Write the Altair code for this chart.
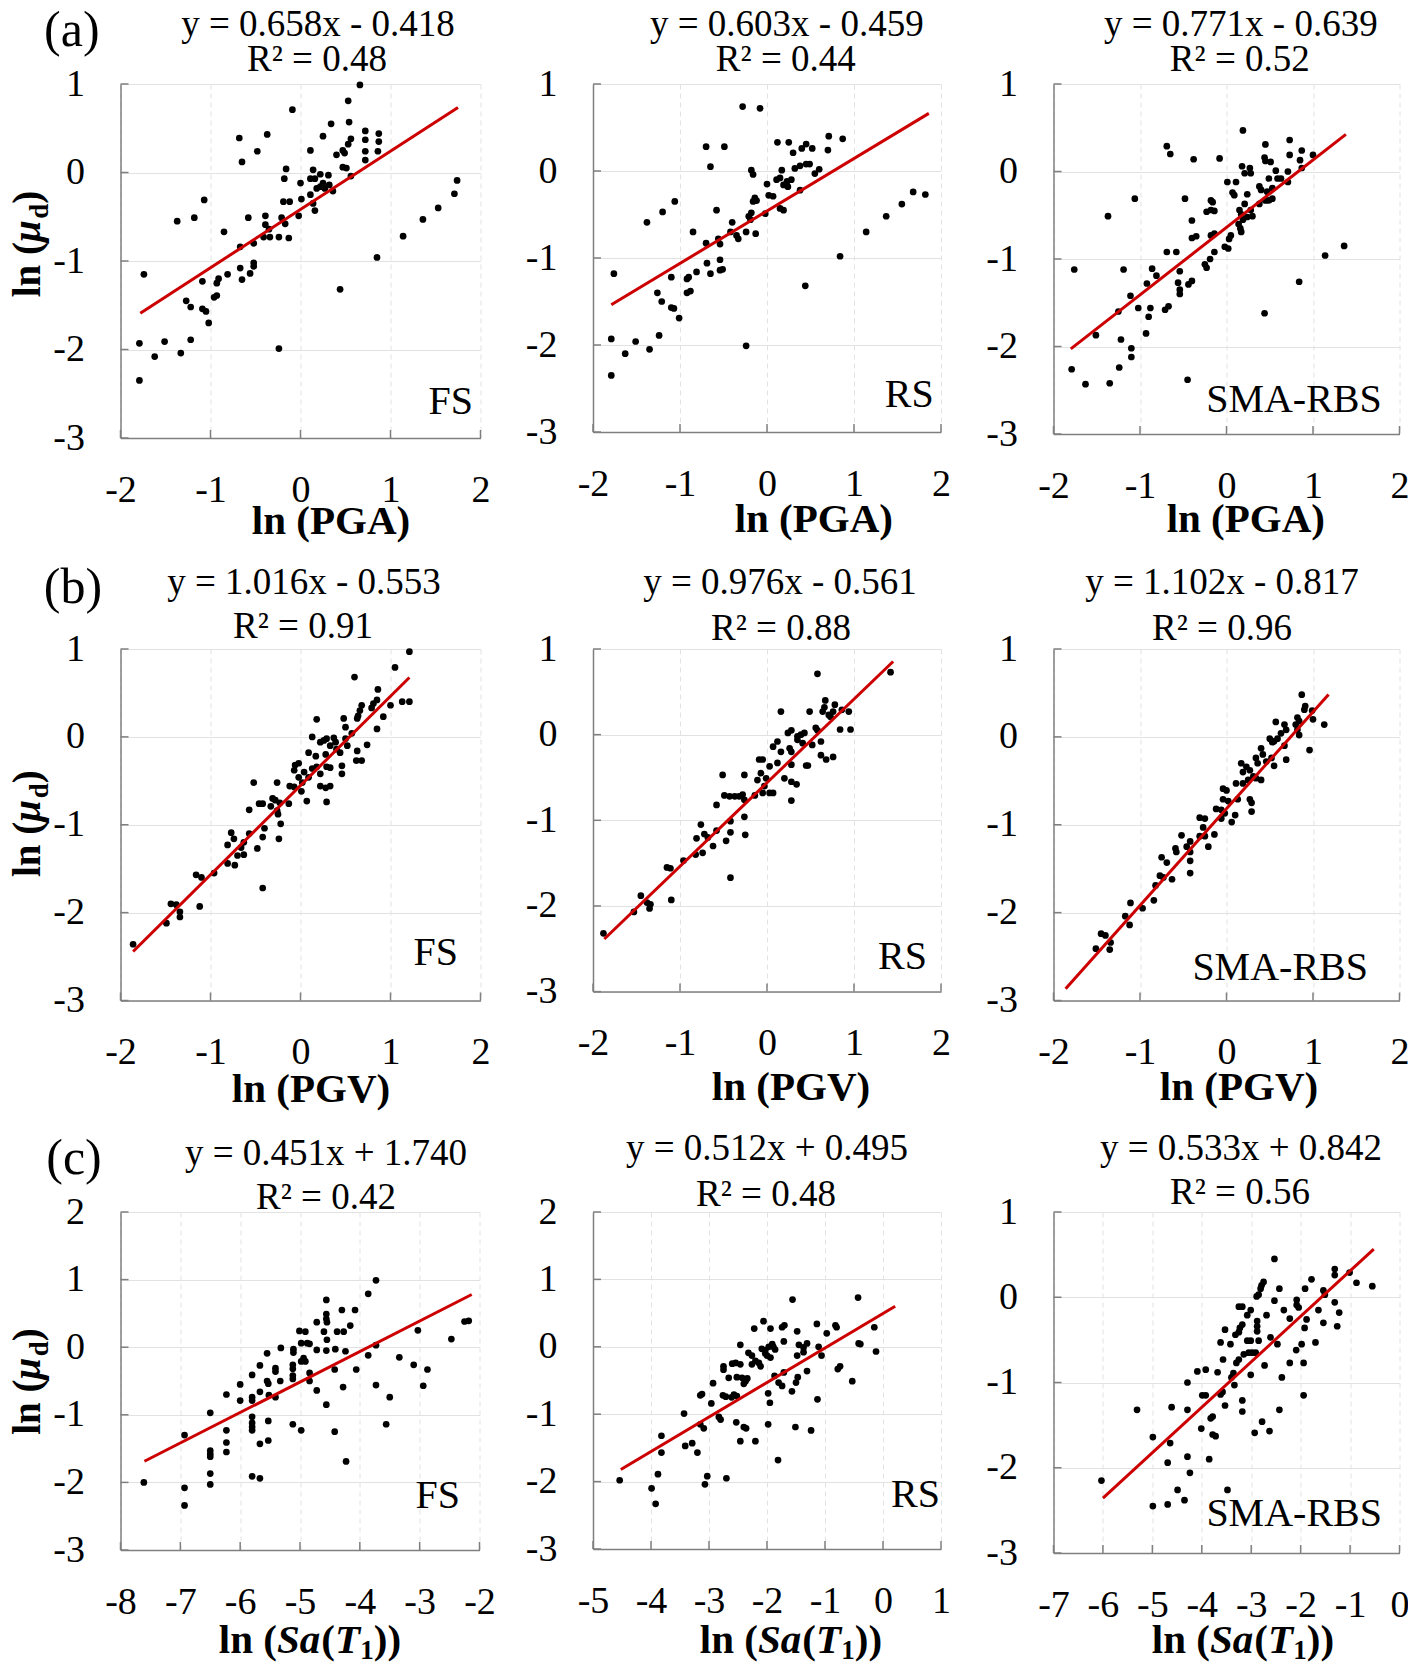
import altair as alt
import pandas as pd

SERIF = "Liberation Serif"

# ---------------- data ----------------
FS_PGA = [(0.66,0.99),(0.53,0.81),(-0.09,0.71),(0.54,0.57),(0.34,0.55),(0.72,0.47),(0.87,0.44),(0.87,0.35),(0.72,0.37),(0.72,0.24),(0.72,0.14),(0.25,0.41),(-0.37,0.43),(-0.68,0.39),(-0.48,0.24),(-0.65,0.12),(0.56,0.38),(0.53,0.32),(0.47,0.25),(0.40,0.20),(0.49,0.22),(0.11,0.25),(0.86,0.24),(0.47,0.06),(0.51,0.05),(0.56,-0.04),(-0.16,0.04),(-0.18,-0.07),(0.14,0.03),(0.16,-0.07),(0.22,-0.02),(0.31,-0.03),(0.11,-0.07),(0.25,-0.12),(0.18,-0.18),(0.22,-0.16),(0.27,-0.18),(0.32,-0.14),(0.36,-0.21),(0.0,-0.12),(0.01,-0.30),(0.11,-0.25),(0.14,-0.35),(0.16,-0.43),(-0.19,-0.33),(-0.12,-0.33),(-0.02,-0.49),(-0.21,-0.51),(-0.17,-0.58),(-0.39,-0.49),(-0.39,-0.59),(-0.35,-0.64),(-0.58,-0.51),(-0.85,-0.67),(-0.41,-0.73),(-0.34,-0.73),(-0.24,-0.73),(-0.13,-0.74),(-0.52,-0.80),(-0.67,-0.84),(-0.52,-1.02),(-0.52,-1.06),(-0.56,-1.14),(-0.67,-1.08),(-0.65,-1.21),(-0.81,-1.15),(-0.91,-1.20),(-0.93,-1.25),(-1.09,-1.23),(-1.09,-1.54),(-1.05,-1.57),(-1.02,-1.70),(-0.93,-1.39),(-0.96,-1.41),(-1.27,-1.45),(-1.22,-1.52),(-1.07,-0.31),(-1.18,-0.51),(-1.37,-0.55),(-1.74,-1.15),(-1.79,-1.93),(-1.51,-1.91),(-1.22,-1.89),(-1.33,-2.04),(-1.62,-2.08),(-1.79,-2.35),(-0.24,-1.99),(0.44,-1.32),(0.85,-0.96),(1.14,-0.72),(1.36,-0.53),(1.53,-0.40),(1.71,-0.24),(1.74,-0.09)]

RS_PGA = [(-0.28,0.74),(-0.08,0.72),(0.71,0.40),(0.87,0.37),(0.70,0.24),(0.12,0.33),(0.25,0.33),(0.30,0.21),(0.40,0.26),(0.45,0.31),(0.52,0.26),(-0.70,0.28),(-0.49,0.28),(-0.65,0.05),(-0.18,0.01),(-0.16,-0.04),(0.32,0.03),(0.38,0.06),(0.45,0.08),(0.49,0.08),(0.17,0.01),(0.15,-0.08),(0.23,-0.12),(0.24,-0.18),(0.19,-0.16),(0.28,-0.10),(0.11,-0.10),(0.60,0.02),(0.55,-0.03),(0.0,-0.15),(0.38,-0.22),(0.02,-0.28),(0.07,-0.29),(-0.14,-0.31),(-0.16,-0.35),(-0.12,-0.34),(0.15,-0.43),(0.19,-0.45),(-0.02,-0.49),(-0.18,-0.48),(-0.21,-0.52),(-0.19,-0.56),(-0.58,-0.45),(-0.40,-0.59),(-0.42,-0.70),(-0.35,-0.74),(-0.33,-0.78),(-0.24,-0.70),(-0.13,-0.72),(-0.85,-0.70),(-0.56,-0.78),(-0.54,-0.84),(-0.70,-0.83),(-0.54,-1.02),(-0.54,-1.14),(-0.51,-1.13),(-0.69,-1.06),(-0.65,-1.18),(-0.81,-1.16),(-0.92,-1.24),(-0.90,-1.22),(-0.92,-1.40),(-0.88,-1.38),(-1.10,-1.22),(-1.20,-0.47),(-1.06,-0.35),(-1.38,-0.59),(-1.76,-1.18),(-1.26,-1.40),(-1.21,-1.50),(-1.10,-1.57),(-1.07,-1.58),(-1.01,-1.69),(-1.79,-1.93),(-1.51,-1.96),(-1.24,-1.89),(-1.35,-2.05),(-1.63,-2.10),(-1.79,-2.35),(-0.24,-2.01),(0.44,-1.32),(0.84,-0.98),(1.14,-0.70),(1.37,-0.52),(1.55,-0.38),(1.68,-0.24),(1.82,-0.27)]

SMA_PGA = [(0.19,0.47),(0.73,0.36),(0.45,0.31),(-0.69,0.29),(-0.65,0.20),(-0.38,0.14),(-0.08,0.15),(0.73,0.19),(0.87,0.24),(1.00,0.19),(0.85,0.13),(0.87,0.04),(0.44,0.16),(0.45,0.12),(0.51,0.11),(0.18,0.06),(0.27,0.04),(0.28,-0.02),(0.21,-0.02),(0.57,0.01),(0.59,-0.08),(0.49,-0.08),(0.63,-0.08),(0.71,0.0),(0.71,-0.12),(0.01,-0.12),(0.11,-0.12),(0.07,-0.24),(0.09,-0.27),(0.24,-0.26),(0.38,-0.17),(0.40,-0.21),(0.47,-0.23),(0.53,-0.19),(0.45,-0.33),(0.53,-0.31),(0.49,-0.33),(-0.48,-0.31),(-0.18,-0.33),(-0.16,-0.35),(-0.23,-0.46),(-0.18,-0.44),(-0.14,-0.45),(0.21,-0.37),(0.38,-0.37),(0.15,-0.44),(0.17,-0.49),(0.28,-0.44),(0.30,-0.51),(0.24,-0.52),(0.19,-0.55),(0.14,-0.60),(0.16,-0.65),(0.17,-0.69),(-0.40,-0.56),(-0.40,-0.76),(-0.35,-0.74),(-0.18,-0.73),(-0.14,-0.71),(0.05,-0.73),(0.03,-0.77),(-0.02,-0.86),(0.02,-0.88),(-0.14,-0.92),(-0.69,-0.92),(-0.58,-0.92),(-0.19,-1.00),(-0.25,-1.06),(-0.23,-1.10),(-0.54,-1.14),(-0.40,-1.25),(-0.44,-1.29),(-0.56,-1.27),(-0.54,-1.35),(-0.54,-1.40),(-0.86,-1.11),(-0.81,-1.19),(-0.92,-1.28),(-0.67,-1.54),(-0.71,-1.58),(-0.88,-1.56),(-0.90,-1.66),(-0.93,-1.85),(-1.02,-1.56),(-1.11,-1.42),(-1.25,-1.60),(-1.19,-1.12),(-1.06,-0.31),(-1.37,-0.51),(-1.76,-1.12),(-1.51,-1.87),(-1.22,-1.92),(-1.10,-2.02),(-1.10,-2.12),(-1.24,-2.24),(-1.79,-2.26),(-1.63,-2.43),(-1.35,-2.42),(-0.45,-2.38),(0.44,-1.62),(0.84,-1.26),(1.14,-0.96),(1.36,-0.85)]

FS_PGV = [(1.21,0.97),(1.05,0.79),(0.60,0.68),(1.21,0.40),(1.13,0.40),(1.00,0.36),(0.86,0.54),(0.85,0.42),(0.81,0.38),(0.79,0.33),(0.92,0.23),(0.85,0.09),(0.68,0.36),(0.66,0.30),(0.64,0.24),(0.63,0.21),(0.48,0.21),(0.50,0.11),(0.18,0.20),(0.57,0.04),(0.50,-0.02),(0.52,-0.10),(0.74,-0.09),(0.63,-0.16),(0.62,-0.27),(0.68,-0.27),(0.13,0.0),(0.22,-0.06),(0.26,-0.04),(0.29,-0.02),(0.37,-0.01),(0.39,-0.06),(0.33,-0.10),(0.28,-0.20),(0.29,-0.34),(0.33,-0.35),(0.09,-0.18),(0.17,-0.22),(0.40,-0.14),(0.44,-0.18),(0.46,-0.33),(0.46,-0.42),(-0.06,-0.32),(-0.02,-0.30),(-0.07,-0.38),(0.04,-0.40),(-0.02,-0.46),(0.02,-0.52),(0.01,-0.62),(0.09,-0.46),(0.13,-0.36),(0.22,-0.42),(0.18,-0.34),(-0.12,-0.56),(-0.07,-0.57),(0.07,-0.73),(0.22,-0.56),(0.28,-0.58),(0.33,-0.56),(0.29,-0.74),(-0.26,-0.52),(-0.52,-0.52),(-0.31,-0.70),(-0.28,-0.72),(-0.23,-0.75),(-0.46,-0.76),(-0.42,-0.76),(-0.57,-0.83),(-0.13,-0.76),(-0.33,-0.79),(-0.26,-0.84),(-0.25,-0.88),(-0.22,-0.99),(-0.40,-1.04),(-0.42,-1.14),(-0.24,-1.16),(-0.48,-1.27),(-0.42,-1.72),(-0.57,-1.10),(-0.77,-1.09),(-0.74,-1.16),(-0.81,-1.23),(-0.63,-1.20),(-0.63,-1.34),(-0.66,-1.26),(-0.70,-1.35),(-0.73,-1.46),(-0.81,-1.44),(-0.96,-1.55),(-1.16,-1.57),(-1.10,-1.60),(-1.12,-1.93),(-1.44,-1.90),(-1.38,-1.91),(-1.34,-1.99),(-1.34,-2.05),(-1.49,-2.12),(-1.86,-2.36)]

RS_PGV = [(0.58,0.71),(1.42,0.73),(0.16,0.27),(0.49,0.27),(0.67,0.40),(0.66,0.32),(0.64,0.27),(0.78,0.35),(0.76,0.27),(0.71,0.23),(0.73,0.21),(0.86,0.29),(0.94,0.27),(0.84,0.06),(0.96,0.06),(0.56,0.08),(0.58,0.05),(0.24,0.02),(0.28,0.05),(0.35,-0.02),(0.39,0.0),(0.43,0.02),(0.35,-0.06),(0.41,-0.10),(0.52,-0.12),(0.62,-0.08),(0.12,-0.08),(0.07,-0.14),(0.16,-0.20),(0.26,-0.16),(0.28,-0.20),(0.62,-0.24),(0.68,-0.29),(0.76,-0.26),(-0.09,-0.29),(-0.05,-0.29),(0.03,-0.37),(0.12,-0.33),(0.28,-0.35),(0.45,-0.36),(0.47,-0.36),(-0.07,-0.45),(-0.01,-0.51),(-0.11,-0.53),(0.20,-0.51),(0.28,-0.55),(0.34,-0.58),(-0.03,-0.60),(0.03,-0.68),(-0.05,-0.68),(0.07,-0.68),(-0.51,-0.47),(-0.26,-0.47),(-0.49,-0.71),(-0.43,-0.72),(-0.37,-0.72),(-0.32,-0.72),(-0.28,-0.70),(-0.26,-0.76),(-0.14,-0.71),(0.28,-0.77),(-0.58,-0.82),(-0.26,-0.96),(-0.42,-1.01),(-0.25,-1.17),(-0.42,-1.14),(-0.47,-1.24),(-0.76,-1.05),(-0.72,-1.16),(-0.68,-1.20),(-0.58,-1.12),(-0.81,-1.21),(-0.62,-1.30),(-0.82,-1.40),(-0.74,-1.38),(-0.96,-1.47),(-1.15,-1.55),(-1.11,-1.56),(-0.42,-1.67),(-1.10,-1.93),(-1.45,-1.88),(-1.38,-1.96),(-1.34,-1.98),(-1.35,-2.03),(-1.53,-2.07),(-1.88,-2.32)]

SMA_PGV = [(0.87,0.48),(0.91,0.35),(0.90,0.31),(0.99,0.30),(1.00,0.20),(1.13,0.14),(0.96,-0.15),(0.82,0.22),(0.84,0.18),(0.80,0.14),(0.84,0.02),(0.82,0.08),(0.57,0.17),(0.67,0.14),(0.69,0.08),(0.63,0.04),(0.50,-0.02),(0.53,-0.06),(0.55,-0.05),(0.59,-0.02),(0.67,-0.10),(0.69,-0.26),(0.40,-0.13),(0.42,-0.20),(0.34,-0.24),(0.36,-0.30),(0.55,-0.33),(0.46,-0.28),(0.52,-0.24),(0.17,-0.30),(0.23,-0.34),(0.27,-0.38),(0.19,-0.40),(0.31,-0.45),(0.34,-0.47),(0.40,-0.49),(0.25,-0.49),(0.19,-0.53),(0.11,-0.53),(0.27,-0.71),(0.29,-0.75),(0.29,-0.85),(-0.04,-0.59),(0.0,-0.61),(-0.04,-0.71),(0.02,-0.73),(0.13,-0.71),(-0.12,-0.82),(-0.06,-0.83),(-0.02,-0.87),(-0.06,-0.93),(0.06,-0.97),(0.10,-0.89),(-0.31,-0.92),(-0.25,-0.93),(-0.27,-1.03),(-0.25,-1.13),(-0.31,-1.13),(-0.14,-1.11),(-0.21,-1.25),(-0.52,-1.12),(-0.42,-1.19),(-0.46,-1.25),(-0.42,-1.31),(-0.59,-1.27),(-0.58,-1.31),(-0.42,-1.41),(-0.42,-1.55),(-0.75,-1.37),(-0.69,-1.43),(-0.77,-1.58),(-0.73,-1.60),(-0.63,-1.62),(-0.82,-1.69),(-0.84,-1.86),(-1.11,-1.89),(-0.97,-1.95),(-1.17,-2.04),(-1.12,-2.14),(-1.45,-2.24),(-1.40,-2.26),(-1.34,-2.34),(-1.35,-2.42),(-1.51,-2.41)]

FS_SA = [(-3.73,0.99),(-3.86,0.79),(-4.56,0.70),(-4.56,0.49),(-4.56,0.42),(-4.55,0.37),(-4.72,0.37),(-4.30,0.55),(-4.08,0.55),(-4.16,0.32),(-4.60,0.23),(-4.38,0.23),(-4.27,0.23),(-4.55,0.11),(-5.01,0.24),(-4.91,0.23),(-4.98,0.06),(-4.88,0.06),(-4.84,0.05),(-5.11,-0.03),(-5.11,-0.08),(-4.94,-0.16),(-4.98,-0.21),(-4.91,-0.21),(-4.72,-0.04),(-4.56,-0.05),(-4.41,-0.03),(-5.32,-0.01),(-5.55,-0.09),(-4.24,-0.06),(-5.12,-0.26),(-5.12,-0.32),(-5.12,-0.42),(-5.12,-0.47),(-5.41,-0.31),(-5.41,-0.36),(-5.33,-0.50),(-5.67,-0.27),(-4.84,-0.38),(-4.84,-0.50),(-4.42,-0.33),(-4.06,-0.33),(-3.86,-0.12),(-3.73,0.03),(-3.34,-0.15),(-3.10,-0.26),(-2.87,-0.33),(-3.03,0.25),(-2.47,0.12),(-2.25,0.38),(-2.18,0.39),(-2.94,-0.57),(-3.73,-0.56),(-3.50,-0.74),(-3.56,-1.14),(-4.23,-1.69),(-4.42,-1.25),(-4.28,-0.59),(-4.72,-0.64),(-4.56,-0.85),(-4.98,-1.23),(-5.12,-1.14),(-5.55,-0.50),(-5.53,-0.54),(-5.80,-0.41),(-5.52,-0.71),(-5.41,-0.74),(-5.67,-0.66),(-5.80,-0.74),(-5.80,-0.79),(-6.00,-0.55),(-6.00,-0.79),(-6.23,-0.70),(-5.80,-1.03),(-5.80,-1.12),(-5.80,-1.18),(-5.80,-1.23),(-5.53,-1.09),(-5.67,-1.43),(-5.53,-1.38),(-6.50,-0.97),(-6.23,-1.23),(-6.23,-1.41),(-6.23,-1.55),(-6.50,-1.53),(-6.50,-1.58),(-6.50,-1.62),(-6.50,-1.87),(-6.50,-2.03),(-5.80,-1.91),(-5.67,-1.94),(-6.93,-1.30),(-6.93,-2.08),(-6.93,-2.34),(-7.61,-2.00)]

RS_SA = [(-1.56,0.70),(-0.43,0.73),(-2.06,0.38),(-2.22,0.27),(-1.94,0.27),(-1.74,0.29),(-1.70,0.32),(-1.48,0.23),(-1.14,0.34),(-0.82,0.32),(-0.80,0.29),(-0.97,0.20),(-0.15,0.29),(-2.46,0.03),(-1.71,0.08),(-2.09,-0.03),(-2.03,-0.05),(-1.97,0.0),(-1.91,0.04),(-1.89,0.0),(-1.86,-0.04),(-2.00,-0.13),(-1.94,-0.16),(-2.03,-0.10),(-1.45,0.03),(-1.37,-0.01),(-1.31,0.05),(-1.48,-0.13),(-1.37,-0.08),(-1.11,0.0),(-1.06,-0.13),(-0.42,0.05),(-0.39,0.04),(-0.12,-0.07),(-2.32,-0.09),(-2.26,-0.13),(-2.20,-0.21),(-2.26,-0.26),(-2.14,-0.24),(-2.11,-0.29),(-2.60,-0.25),(-2.54,-0.24),(-2.46,-0.26),(-2.75,-0.29),(-2.75,-0.34),(-2.66,-0.46),(-2.52,-0.45),(-2.43,-0.46),(-2.34,-0.47),(-2.40,-0.55),(-2.37,-0.51),(-2.93,-0.54),(-1.87,-0.43),(-1.71,-0.38),(-1.80,-0.53),(-1.74,-0.58),(-1.57,-0.66),(-1.50,-0.53),(-1.47,-0.45),(-1.31,-0.36),(-0.78,-0.33),(-0.74,-0.29),(-0.53,-0.51),(-3.12,-0.70),(-3.15,-0.72),(-2.76,-0.72),(-2.71,-0.74),(-2.57,-0.71),(-2.52,-0.73),(-2.61,-0.75),(-1.98,-0.69),(-2.96,-0.84),(-1.95,-0.83),(-1.13,-0.78),(-3.43,-0.99),(-2.83,-1.04),(-2.80,-1.08),(-3.09,-1.21),(-3.15,-1.15),(-2.53,-1.12),(-2.40,-1.19),(-2.36,-1.21),(-1.98,-1.15),(-1.51,-1.19),(-1.24,-1.24),(-2.46,-1.40),(-2.20,-1.40),(-1.81,-1.68),(-3.82,-1.32),(-3.82,-1.57),(-3.41,-1.47),(-3.29,-1.43),(-3.20,-1.57),(-3.03,-1.92),(-3.07,-2.04),(-2.70,-1.95),(-3.88,-1.89),(-3.99,-2.10),(-3.92,-2.33),(-4.54,-1.98)]

SMA_SA = [(-2.53,0.45),(-1.31,0.33),(-1.31,0.26),(-1.01,0.29),(-1.78,0.21),(-0.87,0.17),(-0.55,0.13),(-2.75,0.18),(-2.79,0.14),(-2.81,0.10),(-2.43,0.10),(-1.91,0.10),(-1.54,0.08),(-1.51,0.03),(-2.89,0.01),(-2.85,0.03),(-2.53,-0.04),(-2.08,-0.03),(-2.08,-0.09),(-2.04,-0.12),(-3.25,-0.11),(-3.18,-0.11),(-1.31,-0.06),(-1.22,-0.18),(-2.34,-0.15),(-3.01,-0.15),(-3.08,-0.21),(-2.69,-0.21),(-2.22,-0.25),(-1.88,-0.26),(-1.92,-0.36),(-1.64,-0.15),(-1.54,-0.30),(-1.26,-0.34),(-2.88,-0.28),(-2.88,-0.34),(-2.88,-0.40),(-3.18,-0.32),(-3.23,-0.36),(-3.25,-0.41),(-3.53,-0.38),(-3.32,-0.44),(-2.61,-0.47),(-2.47,-0.55),(-1.70,-0.53),(-1.98,-0.55),(-2.09,-0.62),(-3.62,-0.53),(-3.42,-0.55),(-3.08,-0.51),(-3.01,-0.51),(-2.85,-0.51),(-3.15,-0.67),(-3.05,-0.65),(-2.98,-0.65),(-2.91,-0.65),(-3.25,-0.73),(-3.30,-0.77),(-3.57,-0.73),(-2.73,-0.80),(-2.22,-0.77),(-1.94,-0.77),(-3.01,-0.91),(-3.36,-0.89),(-3.40,-0.94),(-3.68,-0.88),(-4.09,-0.87),(-3.92,-0.85),(-4.29,-1.00),(-3.34,-1.03),(-2.38,-0.94),(-3.58,-1.11),(-3.62,-1.14),(-3.99,-1.15),(-3.92,-1.15),(-1.94,-1.15),(-3.53,-1.27),(-3.18,-1.21),(-3.18,-1.34),(-5.31,-1.32),(-4.61,-1.29),(-4.29,-1.32),(-3.82,-1.42),(-3.78,-1.40),(-2.43,-1.32),(-2.78,-1.46),(-2.93,-1.59),(-2.63,-1.57),(-4.01,-1.54),(-3.78,-1.61),(-3.72,-1.63),(-4.99,-1.64),(-4.64,-1.71),(-3.85,-1.90),(-4.29,-1.87),(-4.69,-1.94),(-4.24,-2.06),(-6.03,-2.15),(-4.49,-2.26),(-3.48,-2.26),(-4.35,-2.38),(-4.99,-2.45),(-4.69,-2.43)]

POINTS = [FS_PGA, RS_PGA, SMA_PGA, FS_PGV, RS_PGV, SMA_PGV, FS_SA, RS_SA, SMA_SA]
SLOPES = [0.658, 0.603, 0.771, 1.016, 0.976, 1.102, 0.451, 0.512, 0.533]
INTERCEPTS = [-0.418, -0.459, -0.639, -0.553, -0.561, -0.817, 1.740, 0.495, 0.842]
R2 = ["0.48", "0.44", "0.52", "0.91", "0.88", "0.96", "0.42", "0.48", "0.56"]
LINE_X = [[-1.78, 1.75], [-1.79, 1.86], [-1.80, 1.38], [-1.86, 1.21], [-1.87, 1.45],
          [-1.86, 1.18], [-7.60, -2.13], [-4.52, 0.21], [-6.0, -0.52]]
SYSTEMS = ["FS", "RS", "SMA-RBS"] * 3
X_DOMAINS = [[-2, 2]] * 6 + [[-8, -2], [-5, 1], [-7, 0]]
Y_DOMAINS = [[-3, 1]] * 6 + [[-3, 2], [-3, 2], [-3, 1]]
ROW_TAGS = ["(a)", "(b)", "(c)"]
X_TITLES = ["ln (PGA)", "ln (PGV)", None]

# ---------------- layout (pixels, relative to each cell's plot origin) ----------------
LAYOUT = [
    dict(w=360, h=354, eq=(197.5, -48), r2=(196.5, -13), nm=(352.5, 329.6), xt=(210.5, 449.5), tag=(-48.7, -38), yt=(-81, 160)),
    dict(w=348, h=348, eq=(193.8, -48), r2=(192.8, -13), nm=(340.8, 322.7), xt=(220.8, 447.8)),
    dict(w=346, h=350, eq=(187.3, -48), r2=(186.3, -13), nm=(328.3, 327.9), xt=(192.3, 447.8)),
    dict(w=360, h=351.5, eq=(183.5, -55.4), r2=(182.5, -11.1), nm=(337.5, 316.3), xt=(190.5, 452.6), tag=(-47.5, -46.5), yt=(-81, 174.7)),
    dict(w=348, h=342.6, eq=(187, -55.4), r2=(188, -9.4), nm=(334, 319.8), xt=(198, 450.8)),
    dict(w=346, h=351.5, eq=(168.5, -55.4), r2=(168.5, -9.4), nm=(314.5, 330.5), xt=(185.5, 450.8)),
    dict(w=359, h=338, eq=(205.5, -47.1), r2=(205.5, -2.7), nm=(339.5, 295.7), xt=(189.5, 441), tag=(-46.5, -38.2), yt=(-81, 169.5)),
    dict(w=348, h=337, eq=(174, -52.5), r2=(173, -6.2), nm=(347, 295), xt=(198, 441)),
    dict(w=346, h=341, eq=(187.5, -52.5), r2=(186.5, -8), nm=(328.5, 313.5), xt=(189.5, 441)),
]

TICK_FS = 38
EQ_FS = 37
NAME_FS = 40
XTITLE_FS = 41
YTITLE_FS = 39
TAG_FS = 50
AXIS_COLOR = "#7f7f7f"


def txt(s, x, y, size, align="center", weight="normal", style="normal", angle=0):
    return alt.Chart(pd.DataFrame({"t": [s]})).mark_text(
        align=align, baseline="alphabetic", font=SERIF, fontSize=size,
        fontWeight=weight, fontStyle=style, angle=angle, color="black"
    ).encode(text="t:N", x=alt.value(x), y=alt.value(y))


def seg_h(segs, cx, base):
    total = sum(s[1] * s[4] for s in segs)
    x = cx - total / 2
    out = []
    for t, size, wt, st, em, dy in segs:
        out.append(txt(t, x, base + dy, size, align="left", weight=wt, style=st))
        x += size * em
    return out


def seg_v(segs, bx, cy):
    total = sum(s[1] * s[4] for s in segs)
    y = cy + total / 2
    out = []
    for t, size, wt, st, em, dx in segs:
        out.append(txt(t, bx + dx, y, size, align="left", weight=wt, style=st, angle=270))
        y -= size * em
    return out


def panel(i):
    L = LAYOUT[i]
    w, h = L["w"], L["h"]
    xd, yd = X_DOMAINS[i], Y_DOMAINS[i]
    xs = alt.Scale(domain=xd, nice=False, zero=False)
    ys = alt.Scale(domain=yd, nice=False, zero=False)
    xv = list(range(xd[0], xd[1] + 1))
    yv = list(range(yd[0], yd[1] + 1))
    ax_x = alt.Axis(values=xv, title=None, grid=True, gridDash=[5, 4], ticks=False, tickSize=0,
                    labelPadding=33, labelFlush=False, labelOverlap=False,
                    labelExpr="datum.value + ''")
    ax_y = alt.Axis(values=yv, title=None, grid=True, ticks=False, tickSize=0,
                    labelPadding=36, labelFlush=False, labelOverlap=False,
                    labelExpr="datum.value + ''")
    X = alt.X("x:Q", scale=xs, axis=ax_x)
    Y = alt.Y("y:Q", scale=ys, axis=ax_y)

    pts = pd.DataFrame(POINTS[i], columns=["x", "y"])
    lx = LINE_X[i]
    line_df = pd.DataFrame({"x": lx, "y": [SLOPES[i] * v + INTERCEPTS[i] for v in lx]})

    layers = [
        alt.Chart(pd.DataFrame({"x": xv})).mark_rule(color=AXIS_COLOR, strokeWidth=1.5)
        .encode(x=X, y=alt.value(h), y2=alt.value(h - 8)),
        alt.Chart(pd.DataFrame({"y": yv})).mark_rule(color=AXIS_COLOR, strokeWidth=1.5)
        .encode(y=Y, x=alt.value(0), x2=alt.value(8)),
        alt.Chart(pts).mark_circle(size=45, color="black", opacity=1).encode(x=X, y=Y),
        alt.Chart(line_df).mark_line(color="#cc0000", strokeWidth=3).encode(x=X, y=Y),
    ]

    sign = "-" if INTERCEPTS[i] < 0 else "+"
    eq = f"y = {SLOPES[i]:.3f}x {sign} {abs(INTERCEPTS[i]):.3f}"
    layers.append(txt(eq, L["eq"][0], L["eq"][1], EQ_FS))
    layers.append(txt(f"R\u00b2 = {R2[i]}", L["r2"][0], L["r2"][1], EQ_FS))
    layers.append(txt(SYSTEMS[i], L["nm"][0], L["nm"][1], NAME_FS, align="right"))

    row = i // 3
    if X_TITLES[row] is not None:
        layers.append(txt(X_TITLES[row], L["xt"][0], L["xt"][1], XTITLE_FS, weight="bold"))
    else:
        segs = [("ln (", XTITLE_FS, "bold", "normal", 1.417, 0),
                ("Sa", XTITLE_FS, "bold", "italic", 1.08, 0),
                ("(", XTITLE_FS, "bold", "normal", 0.333, 0),
                ("T", XTITLE_FS, "bold", "italic", 0.62, 0),
                ("1", 27, "bold", "normal", 0.5, 6),
                ("))", XTITLE_FS, "bold", "normal", 0.666, 0)]
        layers += seg_h(segs, L["xt"][0], L["xt"][1])

    if "tag" in L:
        layers.append(txt(ROW_TAGS[row], L["tag"][0], L["tag"][1], TAG_FS))
    if "yt" in L:
        segs = [("ln (", YTITLE_FS, "bold", "normal", 1.417, 0),
                ("\u03bc", YTITLE_FS, "bold", "italic", 0.6, 0),
                ("d", 27, "bold", "normal", 0.556, 8),
                (")", YTITLE_FS, "bold", "normal", 0.333, 0)]
        layers += seg_v(segs, L["yt"][0], L["yt"][1])

    return alt.layer(*layers).properties(width=w, height=h)


chart = alt.concat(
    *[panel(i) for i in range(9)],
    columns=3,
    spacing={"row": 211, "column": 112.5},
    bounds="flush",
    align="each",
).properties(
    padding={"left": -0.5, "top": -2, "right": -2, "bottom": 0},
    background="white",
).configure_view(stroke=None).configure_axis(
    domainColor=AXIS_COLOR, domainWidth=1.5, gridColor="#e2e2e2", gridWidth=1,
    labelFont=SERIF, labelFontSize=TICK_FS, labelColor="black",
)

chart.save("out.html", embed_options={"renderer": "svg", "actions": False})
